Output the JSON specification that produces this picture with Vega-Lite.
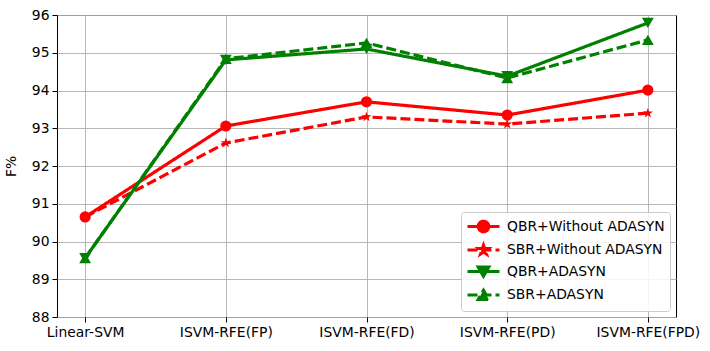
{
  "$schema": "https://vega.github.io/schema/vega-lite/v6.json",
  "width": 619,
  "height": 302,
  "autosize": "none",
  "padding": {"left": 57, "top": 15, "right": 34, "bottom": 34},
  "config": {
    "font": "DejaVu Sans",
    "view": {"stroke": "black", "strokeWidth": 1},
    "axis": {
      "labelFontSize": 13.9, "labelColor": "black", "labelFont": "DejaVu Sans", "labelFontWeight": "normal",
      "titleFontSize": 13.9, "titleFontWeight": "normal", "titleColor": "black", "titleFont": "DejaVu Sans",
      "tickColor": "black", "tickSize": 5, "tickWidth": 1, "labelPadding": 3,
      "domain": false, "grid": true, "gridColor": "#b0b0b0", "gridWidth": 0.9
    }
  },
  "data": {
    "values": [
      {"model": "Linear-SVM", "series": "QBR+Without ADASYN", "F": 90.65},
      {"model": "ISVM-RFE(FP)", "series": "QBR+Without ADASYN", "F": 93.06},
      {"model": "ISVM-RFE(FD)", "series": "QBR+Without ADASYN", "F": 93.7},
      {"model": "ISVM-RFE(PD)", "series": "QBR+Without ADASYN", "F": 93.35},
      {"model": "ISVM-RFE(FPD)", "series": "QBR+Without ADASYN", "F": 94.01},
      {"model": "Linear-SVM", "series": "SBR+Without ADASYN", "F": 90.65},
      {"model": "ISVM-RFE(FP)", "series": "SBR+Without ADASYN", "F": 92.61},
      {"model": "ISVM-RFE(FD)", "series": "SBR+Without ADASYN", "F": 93.3},
      {"model": "ISVM-RFE(PD)", "series": "SBR+Without ADASYN", "F": 93.11},
      {"model": "ISVM-RFE(FPD)", "series": "SBR+Without ADASYN", "F": 93.4},
      {"model": "Linear-SVM", "series": "QBR+ADASYN", "F": 89.56},
      {"model": "ISVM-RFE(FP)", "series": "QBR+ADASYN", "F": 94.81},
      {"model": "ISVM-RFE(FD)", "series": "QBR+ADASYN", "F": 95.1},
      {"model": "ISVM-RFE(PD)", "series": "QBR+ADASYN", "F": 94.38},
      {"model": "ISVM-RFE(FPD)", "series": "QBR+ADASYN", "F": 95.79},
      {"model": "Linear-SVM", "series": "SBR+ADASYN", "F": 89.56},
      {"model": "ISVM-RFE(FP)", "series": "SBR+ADASYN", "F": 94.84},
      {"model": "ISVM-RFE(FD)", "series": "SBR+ADASYN", "F": 95.26},
      {"model": "ISVM-RFE(PD)", "series": "SBR+ADASYN", "F": 94.33},
      {"model": "ISVM-RFE(FPD)", "series": "SBR+ADASYN", "F": 95.34}
    ]
  },
  "encoding": {
    "x": {
      "field": "model", "type": "nominal", "sort": null, "title": null,
      "scale": {"type": "point", "padding": 0.2},
      "axis": {"labelAngle": 0}
    },
    "y": {
      "field": "F", "type": "quantitative", "title": "F%",
      "scale": {"domain": [88, 96], "nice": false, "zero": false},
      "axis": {"values": [88, 89, 90, 91, 92, 93, 94, 95, 96], "titlePadding": 13}
    },
    "color": {
      "field": "series", "type": "nominal",
      "scale": {
        "domain": ["QBR+Without ADASYN", "SBR+Without ADASYN", "QBR+ADASYN", "SBR+ADASYN"],
        "range": ["#ff0000", "#ff0000", "#008000", "#008000"]
      },
      "legend": {
        "title": null,
        "orient": "bottom-right",
        "offset": 6,
        "fillColor": "rgba(255,255,255,0.85)",
        "strokeColor": "#cccccc",
        "cornerRadius": 3,
        "padding": 5,
        "rowPadding": 0.5,
        "labelFontSize": 13.9,
        "labelFont": "DejaVu Sans",
        "labelColor": "black",
        "labelOffset": 22,
        "symbolSize": 256,
        "symbolStrokeWidth": 3,
        "encode": {
          "symbols": {
            "update": {
              "shape": {"signal": "datum.value === 'QBR+Without ADASYN' ? 'M-1,0H3M1.66,0A0.66,0.66 0 1,1 0.34,0A0.66,0.66 0 1,1 1.66,0Z' : datum.value === 'SBR+Without ADASYN' ? 'M-1,0H3M1,-0.62L1.15,-0.2L1.6,-0.2L1.24,0.08L1.38,0.52L1,0.26L0.62,0.52L0.76,0.08L0.4,-0.2L0.85,-0.2Z' : datum.value === 'QBR+ADASYN' ? 'M-1,0H3M0.33,-0.55L1.67,-0.55L1,0.6Z' : 'M-1,0H3M0.33,0.55L1.67,0.55L1,-0.6Z'"},
              "fill": {"scale": "color", "field": "value"},
              "stroke": {"scale": "color", "field": "value"},
              "strokeWidth": {"value": 3},
              "opacity": {"value": 1},
              "fillOpacity": {"value": 1}
            }
          }
        }
      }
    }
  },
  "layer": [
    {
      "mark": {"type": "line", "strokeWidth": 3.2},
      "encoding": {
        "strokeDash": {
          "field": "series", "type": "nominal", "legend": null,
          "scale": {
            "domain": ["QBR+Without ADASYN", "SBR+Without ADASYN", "QBR+ADASYN", "SBR+ADASYN"],
            "range": [[1, 0], [10, 4], [1, 0], [10, 4]]
          }
        }
      }
    },
    {
      "transform": [{"filter": "datum.series === 'QBR+Without ADASYN'"}],
      "mark": {"type": "point", "filled": true, "opacity": 1, "size": 125, "shape": "circle"}
    },
    {
      "transform": [{"filter": "datum.series === 'SBR+Without ADASYN'"}],
      "mark": {"type": "point", "filled": true, "opacity": 1, "size": 115, "shape": "M0,-1L0.23,-0.32L0.95,-0.31L0.38,0.12L0.59,0.81L0,0.4L-0.59,0.81L-0.38,0.12L-0.95,-0.31L-0.23,-0.32Z"}
    },
    {
      "transform": [{"filter": "datum.series === 'QBR+ADASYN'"}],
      "mark": {"type": "point", "filled": true, "opacity": 1, "size": 140, "shape": "triangle-down"}
    },
    {
      "transform": [{"filter": "datum.series === 'SBR+ADASYN'"}],
      "mark": {"type": "point", "filled": true, "opacity": 1, "size": 140, "shape": "triangle-up"}
    }
  ]
}
